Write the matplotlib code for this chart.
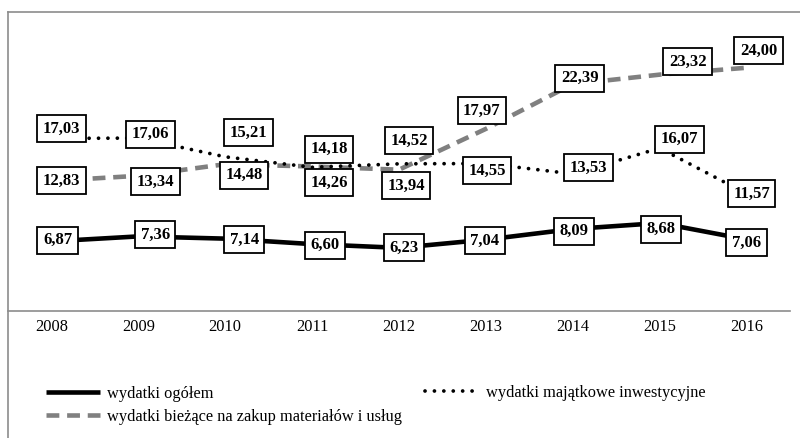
import matplotlib
matplotlib.use("Agg")
import matplotlib.pyplot as plt
from matplotlib.lines import Line2D

plt.rcParams["font.family"] = ["Liberation Serif", "DejaVu Serif"]

years = ["2008", "2009", "2010", "2011", "2012", "2013", "2014", "2015", "2016"]
ogolem = [6.87, 7.36, 7.14, 6.60, 6.23, 7.04, 8.09, 8.68, 7.06]
biezace = [12.83, 13.34, 14.48, 14.26, 13.94, 17.97, 22.39, 23.32, 24.00]
majatkowe = [17.03, 17.06, 15.21, 14.18, 14.52, 14.55, 13.53, 16.07, 11.57]

# label offsets from the points, in pixels (x right, y up)
off_ogolem = [(6, 1), (17, 2), (19, -1), (13, -1), (5, 0), (-1, -1), (1, -2), (1, -6), (0, -3)]
off_biezace = [(10, 0), (17, -6), (19, -11), (17, -16), (7, -16), (-4, 18), (7, 6), (28, 13), (12, 17)]
off_majatkowe = [(10, 10), (12, 4), (23, 24), (17, 18), (10, 23), (1, -7), (16, 6), (20, 9), (5, 0)]

W, H = 800, 438
fig = plt.figure(figsize=(W / 100, H / 100), dpi=100)
ax = fig.add_axes([8 / W, (H - 311) / H, 782 / W, 299 / H])

x = list(range(len(years)))
gray = "#808080"
l_bie, = ax.plot(x, biezace, color=gray, lw=3.3, ls=(0, (2.8, 1.7)), dash_capstyle="butt", zorder=2)
l_maj, = ax.plot(x, majatkowe, color="black", lw=2.7, ls=(0, (0.01, 2.5)), dash_capstyle="round", zorder=3)
l_og, = ax.plot(x, ogolem, color="black", lw=3.3, solid_capstyle="butt", zorder=4)

box = dict(boxstyle="square,pad=0.33", fc="white", ec="black", lw=1.3)
for vals, offs in [(ogolem, off_ogolem), (biezace, off_biezace), (majatkowe, off_majatkowe)]:
    for i, v in enumerate(vals):
        ax.annotate(f"{v:.2f}".replace(".", ","), (i, v), xytext=offs[i],
                    textcoords="offset pixels", ha="center", va="center",
                    fontsize=12, fontweight="bold", bbox=box, zorder=5)

ax.set_xlim(-0.5, len(years) - 0.5)
ax.set_ylim(0, 29.5)
ax.set_xticks(x)
ax.set_xticklabels(years, fontsize=11.8)
ax.set_yticks([])
ax.tick_params(axis="x", length=0, pad=6)
for s in ["top", "left", "right"]:
    ax.spines[s].set_visible(False)
ax.spines["bottom"].set_color("#8c8c8c")
ax.spines["bottom"].set_linewidth(1.2)
ax.patch.set_alpha(0)

# chart frame
fig.add_artist(Line2D([8 / W, 1], [(H - 12) / H] * 2, color="#8c8c8c", lw=1.2))
fig.add_artist(Line2D([8 / W] * 2, [0, (H - 12) / H], color="#8c8c8c", lw=1.2))

leg_kw = dict(frameon=False, fontsize=11.8, handlelength=3.3, handletextpad=0.4,
              borderpad=0, borderaxespad=0, labelspacing=0.45)
fig.legend([l_og, l_bie], ["wydatki ogółem", "wydatki bieżące na zakup materiałów i usług"],
           loc="center left", bbox_to_anchor=(46 / W, (H - 405.5) / H), **leg_kw)
fig.legend([l_maj], ["wydatki majątkowe inwestycyjne"],
           loc="center left", bbox_to_anchor=(425 / W, (H - 393) / H), **leg_kw)

fig.savefig("out.png", dpi=100)
